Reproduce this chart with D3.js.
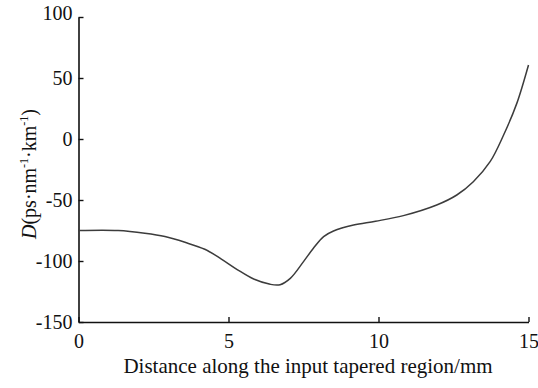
<!DOCTYPE html>
<html>
<head>
<meta charset="utf-8">
<script src="https://cdn.jsdelivr.net/npm/d3@7"></script>
<style>
  body { margin: 0; background: #fff; }
  svg { display: block; }
</style>
</head>
<body>
<div id="chart"></div>
<script>
// distance along taper (mm) and dispersion D (ps/nm/km)
var distance = [0, 1.32, 2.21, 2.88, 3.55, 4.21, 4.75, 5.29, 5.84, 6.39, 6.72, 7.06, 7.5, 7.83, 8.17, 8.5, 9.17, 9.9, 10.83, 11.94, 12.61, 13.16, 13.72, 14.17, 14.61, 15];
var dispersion = [-75.1, -75.1, -77.3, -80, -84.7, -90.4, -98.2, -107, -114.8, -119.1, -119.4, -114.2, -100.5, -89.6, -80, -75.4, -70.5, -67.4, -62.8, -54.1, -45.9, -35, -18.6, 3.3, 29.2, 60.7];
var xTicks = [0, 5, 10, 15];
var yTicks = [-150, -100, -50, 0, 50, 100];

var W = 538, H = 388;
var margin = {left: 78.5, right: 9.5, top: 17, bottom: 66};
var serif = "'Liberation Serif', 'Times New Roman', serif";

var svg = d3.select("#chart").append("svg")
  .attr("width", W)
  .attr("height", H);

var x = d3.scaleLinear().domain([0, 15]).range([margin.left, W - margin.right]);
var y = d3.scaleLinear().domain([-150, 100]).range([H - margin.bottom, margin.top]);

var data = distance.map(function(d, i){ return {x: d, y: dispersion[i]}; });
var fmt = function(d){ return String(d); };  // plain hyphen for negatives

//axes, ticks pointing inward
var xAxis = svg.append("g")
  .attr("transform", "translate(0," + y(-150) + ")")
  .call(d3.axisBottom(x).tickValues(xTicks).tickFormat(fmt).tickSize(-5).tickPadding(12).tickSizeOuter(0));
var yAxis = svg.append("g")
  .attr("transform", "translate(" + x(0) + ",0)")
  .call(d3.axisLeft(y).tickValues(yTicks).tickFormat(fmt).tickSize(-5).tickPadding(6).tickSizeOuter(0));

[xAxis, yAxis].forEach(function(a){
  a.attr("font-family", null).attr("font-size", null);
  a.select(".domain").attr("stroke", "#111").attr("stroke-width", 1.6);
  a.selectAll(".tick line").attr("stroke", "#111").attr("stroke-width", 1.4);
  a.selectAll(".tick text")
    .style("font-family", serif)
    .style("font-size", "20px")
    .attr("fill", "#111");
});
yAxis.selectAll(".tick text").attr("dy", "0.33em");
// top label sits a little above its tick
yAxis.selectAll(".tick text").filter(function(d){ return d === 100; }).attr("dy", "0.12em");

var line = d3.line()
  .x(function(d){ return x(d.x); })
  .y(function(d){ return y(d.y); })
  .curve(d3.curveCatmullRom.alpha(0.5));

svg.append("path")
  .datum(data)
  .attr("fill", "none")
  .attr("stroke", "#3c3c3c")
  .attr("stroke-width", 1.5)
  .attr("d", line);

// axis titles
svg.append("text")
  .attr("x", 308)
  .attr("y", 373)
  .attr("text-anchor", "middle")
  .style("font-family", serif)
  .style("font-size", "21px")
  .attr("fill", "#111")
  .text("Distance along the input tapered region/mm");

var yl = svg.append("text")
  .attr("transform", "translate(36,174) rotate(-90)")
  .attr("text-anchor", "middle")
  .style("font-family", serif)
  .style("font-size", "20px")
  .attr("fill", "#111");
yl.append("tspan").style("font-style", "italic").text("D");
yl.append("tspan").text("(ps·nm");
yl.append("tspan").style("font-size", "12px").attr("dy", -8).text("-1");
yl.append("tspan").attr("dy", 8).text("·km");
yl.append("tspan").style("font-size", "12px").attr("dy", -8).text("-1");
yl.append("tspan").attr("dy", 8).text(")");
</script>
</body>
</html>
